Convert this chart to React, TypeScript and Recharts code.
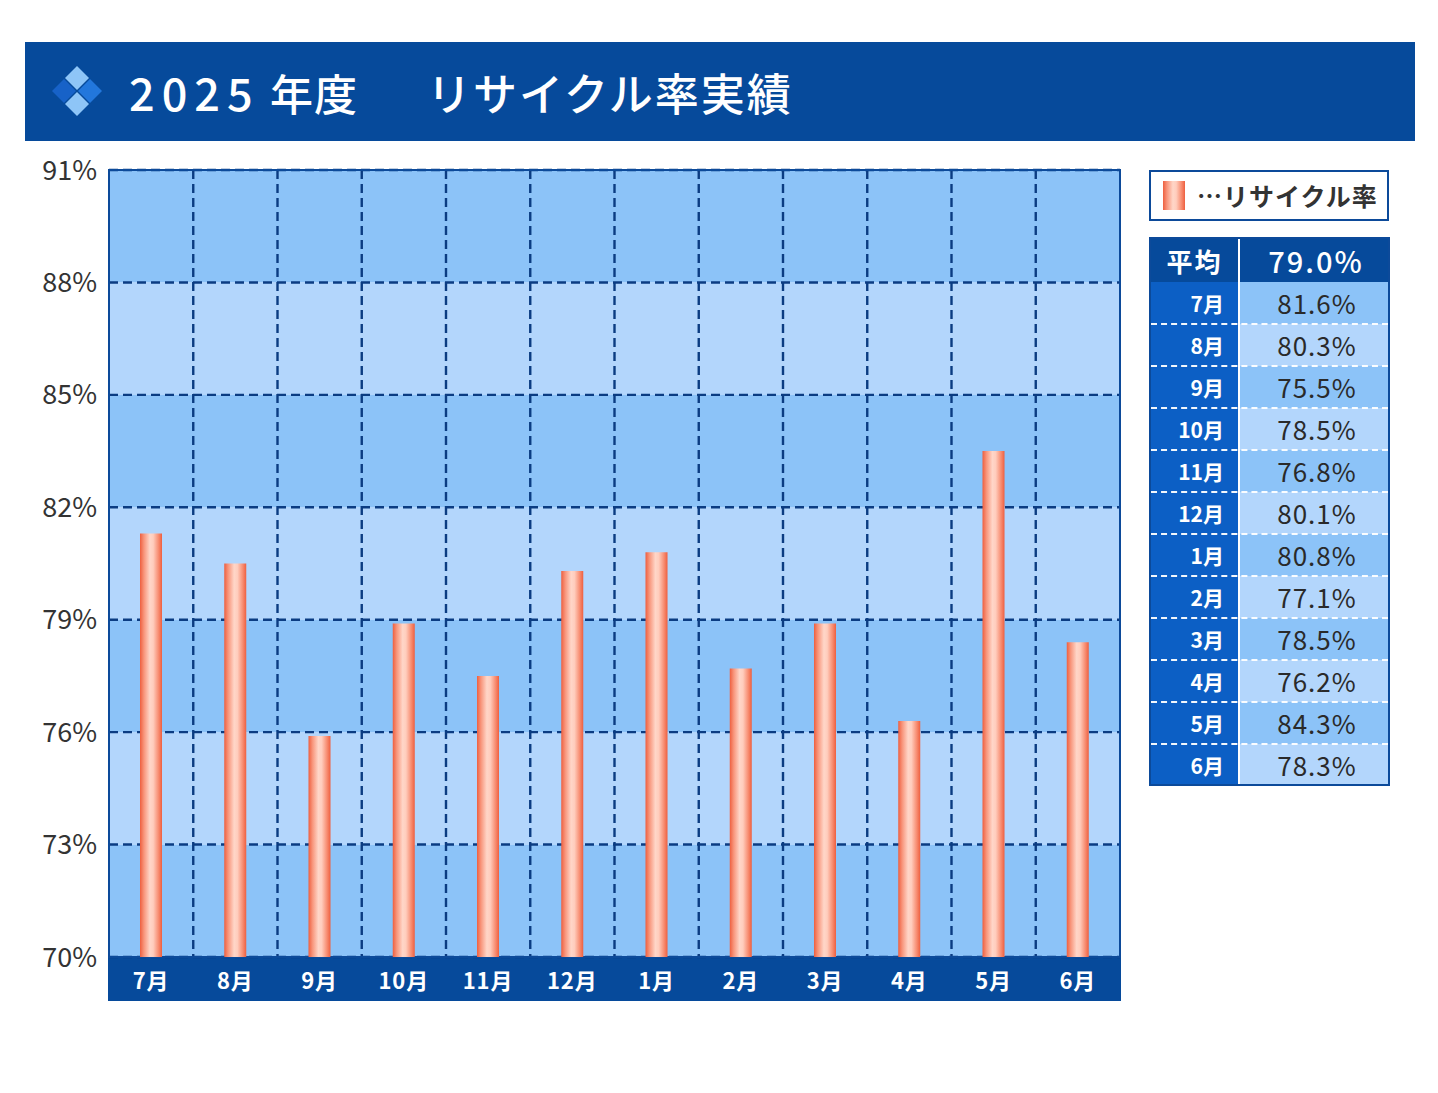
import React from "react";
import { BarChart, Bar, XAxis, YAxis, CartesianGrid, ReferenceArea } from "recharts";

const months = ["7月", "8月", "9月", "10月", "11月", "12月", "1月", "2月", "3月", "4月", "5月", "6月"];
const recycleRates = [81.3, 80.5, 75.9, 78.9, 77.5, 80.3, 80.8, 77.7, 78.9, 76.3, 83.5, 78.4];
const tableRates = [81.6, 80.3, 75.5, 78.5, 76.8, 80.1, 80.8, 77.1, 78.5, 76.2, 84.3, 78.3];
const yTicks = [70, 73, 76, 79, 82, 85, 88, 91];
const monthBoundaries = [1, 2, 3, 4, 5, 6, 7, 8, 9, 10, 11];
const titleYear = "2025";
const titleNendo = "年度";
const titleMain = "リサイクル率実績";
const legendLabel = "…リサイクル率";
const averageLabel = "平均";

const FONT = "'Noto Sans CJK JP', 'Noto Sans', sans-serif";
const DARK = "#064a9b";
const BORDER = "#0c4a9a";
const GRID = "#0b3c82";
const BAND_DARK = "#8cc3f8";
const BAND_LIGHT = "#b3d6fc";
const LEFT_COL = "#0c5fc5";

const chartData = months.map((m, i) => ({ month: m, rate: recycleRates[i] }));
const average = tableRates.reduce((a, b) => a + b, 0) / tableRates.length;

const XTick = (props: any) => {
  const { x, y, payload } = props;
  return (
    <text
      x={x}
      y={y + 22}
      textAnchor="middle"
      dominantBaseline="central"
      fill="#ffffff"
      fontFamily={FONT}
      fontWeight={700}
      fontSize={22}
      letterSpacing={1}
    >
      {payload.value}
    </text>
  );
};

const boundaryGenerator = (args: any) => {
  const off = args.offset;
  return monthBoundaries.map((b) => off.left + (off.width * b) / months.length);
};

export default function App() {
  return (
    <div
      style={{
        position: "absolute",
        left: 0,
        top: 0,
        width: 1438,
        height: 1093,
        background: "#ffffff",
        fontFamily: FONT,
        overflow: "hidden",
      }}
    >
      {/* Header */}
      <div
        style={{
          position: "absolute",
          left: 25,
          top: 42,
          width: 1390,
          height: 99,
          background: DARK,
        }}
      />
      <svg style={{ position: "absolute", left: 50, top: 64 }} width={56} height={56}>
        <polygon points="27,2 39,14 27,26 15,14" fill="#8ec5f7" />
        <polygon points="14,15 26,27 14,39 2,27" fill="#1762c8" />
        <polygon points="40,15 52,27 40,39 28,27" fill="#2277dc" />
        <polygon points="27,28 39,40 27,52 15,40" fill="#8ec5f7" />
      </svg>
      <div style={{ position: "absolute", left: 129, top: 62, height: 60, lineHeight: "60px", color: "#fff", fontSize: 45, fontWeight: 500, letterSpacing: 7, whiteSpace: "nowrap" }}>
        {titleYear}
      </div>
      <div style={{ position: "absolute", left: 270, top: 62, height: 60, lineHeight: "60px", color: "#fff", fontSize: 43, fontWeight: 500, letterSpacing: 1, whiteSpace: "nowrap" }}>
        {titleNendo}
      </div>
      <div style={{ position: "absolute", left: 427, top: 62, height: 60, lineHeight: "60px", color: "#fff", fontSize: 44, fontWeight: 500, letterSpacing: 2, whiteSpace: "nowrap" }}>
        {titleMain}
      </div>

      {/* X-axis band */}
      <div
        style={{
          position: "absolute",
          left: 108,
          top: 956,
          width: 1013,
          height: 45,
          background: DARK,
        }}
      />

      {/* Chart */}
      <div style={{ position: "absolute", left: 0, top: 0 }}>
        <BarChart
          width={1130}
          height={1010}
          data={chartData}
          margin={{ top: 170, right: 10, bottom: 10, left: 0 }}
          barCategoryGap={0}
        >
          <defs>
            <linearGradient id="barGrad" x1="0" y1="0" x2="1" y2="0">
              <stop offset="0%" stopColor="#ee5f3f" />
              <stop offset="18%" stopColor="#f8957b" />
              <stop offset="45%" stopColor="#ffd6c8" />
              <stop offset="60%" stopColor="#ffcdbd" />
              <stop offset="85%" stopColor="#f78a6e" />
              <stop offset="100%" stopColor="#ee5f3f" />
            </linearGradient>
          </defs>
          <CartesianGrid
            vertical={true}
            horizontal={true}
            stroke={GRID}
            strokeWidth={2.4}
            strokeDasharray="9 5"
            horizontalFill={[BAND_DARK, BAND_LIGHT]}
            fillOpacity={1}
            verticalCoordinatesGenerator={boundaryGenerator}
          />
          <XAxis
            dataKey="month"
            type="category"
            axisLine={false}
            tickLine={false}
            tickSize={0}
            tickMargin={0}
            height={43}
            interval={0}
            padding={{ left: 0, right: 0 }}
            tick={<XTick />}
          />
          <YAxis
            type="number"
            domain={[70, 91]}
            ticks={yTicks}
            interval={0}
            width={109}
            axisLine={false}
            tickLine={false}
            tickSize={0}
            tickMargin={12}
            allowDataOverflow
            tickFormatter={(v: number) => `${v}%`}
            tick={{ fill: "#333333", fontSize: 27, fontFamily: FONT }}
          />
          <Bar dataKey="rate" fill="url(#barGrad)" barSize={22} isAnimationActive={false} />
          <ReferenceArea
            x1={months[0]}
            x2={months[months.length - 1]}
            y1={yTicks[0]}
            y2={yTicks[yTicks.length - 1]}
            fill="none"
            fillOpacity={0}
            stroke={BORDER}
            strokeWidth={2}
            ifOverflow="visible"
          />
        </BarChart>
      </div>

      {/* Legend */}
      <div
        style={{
          position: "absolute",
          left: 1149,
          top: 170,
          width: 240,
          height: 51,
          boxSizing: "border-box",
          border: `2px solid ${BORDER}`,
          background: "#ffffff",
        }}
      >
        <div
          style={{
            position: "absolute",
            left: 12,
            top: 9,
            width: 22,
            height: 29,
            background:
              "linear-gradient(to right, #ee5f3f 0%, #f8957b 18%, #ffd6c8 45%, #ffcdbd 60%, #f78a6e 85%, #ee5f3f 100%)",
          }}
        />
        <div
          style={{
            position: "absolute",
            left: 46,
            top: 0,
            height: 47,
            lineHeight: "47px",
            fontSize: 25,
            fontWeight: 700,
            letterSpacing: 1,
            color: "#333333",
            whiteSpace: "nowrap",
          }}
        >
          {legendLabel}
        </div>
      </div>

      {/* Table */}
      <div
        style={{
          position: "absolute",
          left: 1149,
          top: 237,
          width: 241,
          height: 549,
          boxSizing: "border-box",
          border: `2px solid ${BORDER}`,
          background: DARK,
          overflow: "hidden",
        }}
      >
        <div style={{ display: "flex", height: 43, background: DARK }}>
          <div
            style={{
              width: 87,
              textAlign: "center",
              lineHeight: "43px",
              color: "#fff",
              fontSize: 26,
              fontWeight: 700,
              letterSpacing: 2,
              borderRight: "2px solid #ffffff",
            }}
          >
            {averageLabel}
          </div>
          <div
            style={{
              flex: 1,
              textAlign: "center",
              lineHeight: "43px",
              color: "#fff",
              fontSize: 29,
              fontWeight: 500,
              letterSpacing: 2,
              paddingLeft: 4,
            }}
          >
            {average.toFixed(1)}%
          </div>
        </div>
        {months.map((m, i) => (
          <div key={m} style={{ display: "flex", height: 42, position: "relative" }}>
            <div
              style={{
                width: 87,
                background: LEFT_COL,
                borderRight: "2px solid #ffffff",
                boxSizing: "content-box",
                color: "#fff",
                fontSize: 21,
                fontWeight: 700,
                lineHeight: "42px",
                position: "relative",
              }}
            >
              <span style={{ position: "absolute", right: 14, top: 0 }}>{m}</span>
            </div>
            <div
              style={{
                flex: 1,
                background: i % 2 === 0 ? BAND_DARK : BAND_LIGHT,
                textAlign: "center",
                color: "#2a2a2a",
                fontSize: 26,
                letterSpacing: 1,
                lineHeight: "42px",
                paddingLeft: 6,
              }}
            >
              {tableRates[i].toFixed(1)}%
            </div>
            {i > 0 && (
              <div
                style={{
                  position: "absolute",
                  left: 0,
                  right: 0,
                  top: -1,
                  height: 0,
                  borderTop: "2px dashed rgba(255,255,255,0.95)",
                }}
              />
            )}
          </div>
        ))}
      </div>
    </div>
  );
}
